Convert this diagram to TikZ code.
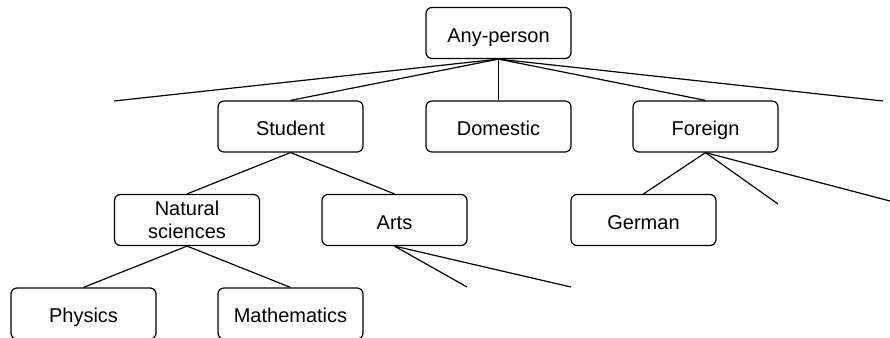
\documentclass[tikz,border=0pt]{standalone}
\usepackage{fontspec}
\setmainfont{Liberation Sans}
\begin{document}
\begin{tikzpicture}[x=1pt,y=-1pt,
  box/.style={draw,line width=1.2pt,rounded corners=6pt,minimum width=145pt,minimum height=51pt,
    inner sep=0pt,align=center,font=\fontsize{20}{23}\selectfont},
  oneline/.style={box,text height=18pt,text depth=0pt},
  edge/.style={line width=1.2pt}]
\useasboundingbox (0,0) rectangle (890,337);
% nodes
\node[oneline] (any) at (498.5,33) {Any-person};
\node[oneline] (stu) at (290.5,126.5) {Student};
\node[oneline] (dom) at (498.5,126.5) {Domestic};
\node[oneline] (for) at (705.5,126.5) {Foreign};
\node[box] (nat) at (187,220) {Natural\\sciences};
\node[oneline] (arts) at (394.5,220) {Arts};
\node[oneline] (ger) at (643.5,220) {German};
\node[oneline] (phy) at (83.5,313.5) {Physics};
\node[oneline] (math) at (290.5,313.5) {Mathematics};
% open branch ends
\coordinate (anyL) at (114,101);
\coordinate (anyR) at (883,101);
\coordinate (artsA) at (467,287);
\coordinate (artsB) at (571,287);
\coordinate (forA) at (778,204);
\coordinate (forB) at (890,201);
% connectors
\draw[edge] (any.south) -- (anyL);
\draw[edge] (any.south) -- (stu.north);
\draw[edge] (any.south) -- (dom.north);
\draw[edge] (any.south) -- (for.north);
\draw[edge] (any.south) -- (anyR);
\draw[edge] (stu.south) -- (nat.north);
\draw[edge] (stu.south) -- (arts.north);
\draw[edge] (nat.south) -- (phy.north);
\draw[edge] (nat.south) -- (math.north);
\draw[edge] (arts.south) -- (artsA);
\draw[edge] (arts.south) -- (artsB);
\draw[edge] (for.south) -- (ger.north);
\draw[edge] (for.south) -- (forA);
\draw[edge] (for.south) -- (forB);
\end{tikzpicture}
\end{document}
